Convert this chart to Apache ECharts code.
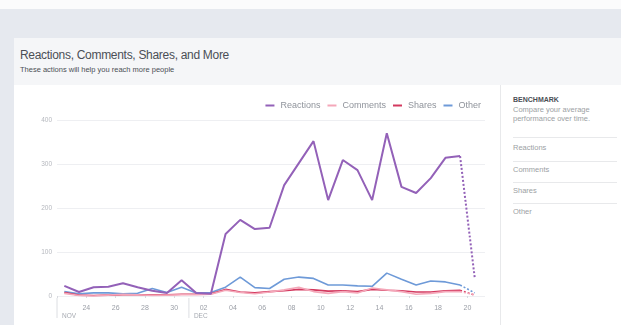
<!DOCTYPE html>
<html><head><meta charset="utf-8">
<script src="https://cdn.jsdelivr.net/npm/echarts@6/dist/echarts.min.js"></script>
<style>
html,body{margin:0;padding:0;width:621px;height:325px;overflow:hidden;background:#fff;font-family:"Liberation Sans",Arial,Helvetica,sans-serif;}
#topstrip{position:absolute;left:0;top:0;width:621px;height:9px;background:#fbfbfc;}
#bg{position:absolute;left:0;top:9px;width:621px;height:316px;background:#e6e9ef;}
#header{position:absolute;left:14px;top:38px;width:607px;height:47px;background:#f5f6f8;}
#title{position:absolute;left:6px;top:10px;font-size:12px;color:#4b4f56;letter-spacing:-0.3px;}
#sub{position:absolute;left:6px;top:27px;font-size:7.5px;color:#4b4f56;}
#card{position:absolute;left:14px;top:85px;width:607px;height:240px;background:#fff;}
#chart{position:absolute;left:0;top:0;width:486px;height:240px;}
#side{position:absolute;left:486px;top:0;width:121px;height:240px;border-left:1px solid #e8e9eb;}
#side .h{position:absolute;left:12px;top:11px;font-size:7px;font-weight:bold;color:#4b4f56;}
#side .d{position:absolute;left:12px;top:20px;font-size:7.5px;line-height:9px;color:#9c9fa4;}
#side .ln{position:absolute;left:12px;width:104px;height:1px;background:#e8e9eb;}
#side .it{position:absolute;left:12px;font-size:7.5px;color:#9c9fa4;}
</style></head>
<body>
<div id="topstrip"></div>
<div id="bg"></div>
<div id="header"><div id="title">Reactions, Comments, Shares, and More</div><div id="sub">These actions will help you reach more people</div></div>
<div id="card">
<div id="chart"></div>
<div id="side">
<div class="h">BENCHMARK</div>
<div class="d">Compare your average<br>performance over time.</div>
<div class="ln" style="top:52px"></div>
<div class="it" style="top:58px">Reactions</div>
<div class="ln" style="top:76px"></div>
<div class="it" style="top:80px">Comments</div>
<div class="ln" style="top:97px"></div>
<div class="it" style="top:101px">Shares</div>
<div class="ln" style="top:118px"></div>
<div class="it" style="top:122px">Other</div>
</div>
</div>
<script>
// Days: Nov 22 .. Dec 20
const dayLabels = ['22','23','24','25','26','27','28','29','30','01','02','03','04','05','06','07','08','09','10','11','12','13','14','15','16','17','18','19','20'];
const monthMarks = [{index:0,label:'NOV'},{index:9,label:'DEC'}];
const yTicks = [0,100,200,300,400];
const seriesNames = ['Reactions','Comments','Shares','Other'];
const seriesColors = ['#9361b8','#f4a7b9','#d3395f','#6e9ad8'];
const reactions = [23,9,20,21,29,20,12,7,36,7,5,141,173,152,155,252,302,352,218,309,286,218,370,248,234,268,314,318,41];
const comments  = [6,1,0,2,4,3,1,2,3,3,4,13,8,5,9,14,20,10,6,10,7,18,14,10,4,6,10,10,3];
const shares    = [8,2,1,2,3,3,2,3,4,4,5,15,9,7,10,12,15,14,11,12,10,15,13,12,9,9,12,13,2];
const other     = [10,5,7,7,5,6,17,8,20,7,8,20,43,19,17,38,43,40,25,25,23,22,52,38,25,34,32,25,7];
const allData = [reactions, comments, shares, other];

const chart = echarts.init(document.getElementById('chart'));
const n = dayLabels.length;
const series = [];
allData.forEach((arr, k) => {
  const solid = arr.map((v, i) => [i + 0.5, i < n - 1 ? v : null]);
  const dashed = arr.map((v, i) => [i + 0.5, i >= n - 2 ? v : null]);
  const w = k === 0 ? 2 : 1.6;
  series.push({name: seriesNames[k], type:'line', data: solid, showSymbol:false, symbol:'none', z: 10 - k,
    lineStyle:{color: seriesColors[k], width: w}, itemStyle:{color: seriesColors[k]}, animation:false});
  series.push({name: seriesNames[k], type:'line', data: dashed, showSymbol:false, symbol:'none', z: 10 - k,
    lineStyle:{color: seriesColors[k], width: w, type:[2,2]}, itemStyle:{color: seriesColors[k]}, animation:false});
});

chart.setOption({
  animation:false,
  textStyle:{fontFamily:'"Liberation Sans", Arial, sans-serif'},
  legend:{data: seriesNames.map(s=>({name:s, icon:'rect'})), right:14, top:11, itemWidth:9, itemHeight:2, itemGap:7,
    textStyle:{color:'#8f939b', fontSize:9, padding:[0,0,0,1]}},
  grid:{left:43, top:35, width:428, height:176},
  xAxis:{type:'value', min:0, max:29.2, interval:2,
    axisLine:{show:false}, splitLine:{show:false},
    axisTick:{show:true, length:2, lineStyle:{color:'#d8dadf'}},
    axisLabel:{color:'#9a9ea6', fontSize:7, margin:9, showMaxLabel:false,
      formatter: v => (v >= 2 && v < n ? dayLabels[v] : '')}},
  yAxis:{type:'value', min:yTicks[0], max:yTicks[yTicks.length-1], interval:100,
    axisLine:{show:false}, axisTick:{show:false},
    splitLine:{lineStyle:{color:'#eeeff2', width:1}},
    axisLabel:{color:'#b5b8be', fontSize:6.5, margin:5}},
  series: series
});

// Month markers placed through the axis scale
const graphics = [];
monthMarks.forEach(m => {
  const p = chart.convertToPixel({gridIndex:0}, [m.index, 0]);
  graphics.push({type:'line', shape:{x1:p[0], y1:p[1]+2, x2:p[0], y2:p[1]+22}, style:{stroke:'#dcdee2', lineWidth:1}, silent:true});
  graphics.push({type:'text', x:p[0]+5, y:p[1]+20, style:{text:m.label, fill:'#a6aab1', fontSize:6.5, fontFamily:'"Liberation Sans", Arial, sans-serif', textVerticalAlign:'middle'}, silent:true});
});
chart.setOption({graphic: graphics});
</script>
</body></html>
